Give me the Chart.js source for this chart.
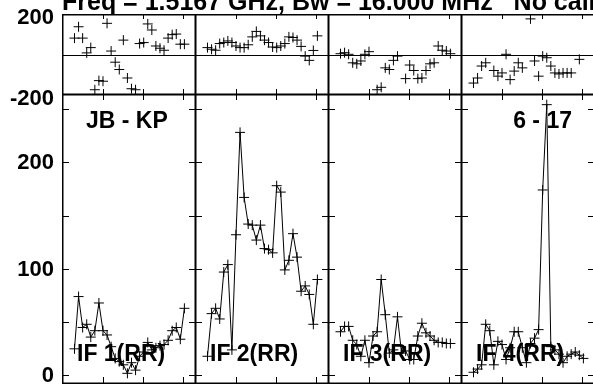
<!DOCTYPE html>
<html>
<head>
<meta charset="utf-8">
<script src="https://cdn.jsdelivr.net/npm/chart.js@4.4.0/dist/chart.umd.min.js"></script>
<style>
  html, body { margin: 0; padding: 0; background: #fff; }
  body { width: 593px; height: 386px; position: relative; overflow: hidden;
         font-family: "Liberation Sans", Arial, sans-serif; font-weight: bold; color: #000; }
  canvas { position: absolute; }
  .lbl { position: absolute; font-size: 22px; line-height: 22px; white-space: pre; }
  .big { font-size: 23px; line-height: 23px; }
</style>
</head>
<body>
<script>
// Data: sample index (time), amplitude and phase per IF
const times = [0, 1, 2, 3, 4, 5, 6, 7, 8, 9, 10, 11, 12, 13, 14, 15, 16, 17, 18, 19, 20, 21, 22, 23, 24, 25, 26, 27];
const xTicks = [7, 16.8, 26.6];

const amp1 = [25, 74, 45, 48, 36, 42, 68, 42, 38, 27, 16, 13, 10, 2, 12, 5, 18, 22, 31, 24, 26, 28, 29, 33, 42, 45, 34, 63];
const amp2 = [18, 58, 63, 53, 97, 104, 24, 132, 228, 167, 142, 141, 127, 141, 119, 118, 115, 178, 172, 99, 108, 133, 111, 79, 84, 76, 48, 90];
const amp3 = [41, 46, 46, 33, 29, 18, 33, 12, 37, 41, 90, 57, 21, 24, 55, 21, 23, 15, 15, 37, 49, 40, 37, 33, 31, 31, 30, 30];
const amp4 = [3, 6, 10, 48, 42, 10, 32, 29, 15, 26, 41, 41, 26, 12, 30, 35, 43, 174, 254, 27, 24, 20, 12, 18, 20, 22, 19, 16];

const phase1 = [81, 137, 81, 8, 34, -174, -129, -132, 154, 17, -38, -74, 71, -116, -169, -174, 54, 59, 151, 121, 42, 31, 21, 81, 98, 101, 51, 51];
const phase2 = [34, 26, 21, 54, 59, 67, 59, 42, 34, 34, 48, 87, 114, 92, 71, 59, 37, 34, 42, 54, 87, 84, 71, 40, -8, -29, 20, 92];
const phase3 = [4, 9, 1, -41, -46, -32, 1, 14, null, -174, -162, -66, -74, -29, -8, null, -119, -52, -79, -119, -116, -79, -46, -41, 42, 21, 17, 4];
const phase4 = [-141, -116, -57, -41, null, -79, -107, -91, 1, -124, -82, -41, -66, null, 176, -32, -107, -8, -16, -57, -91, -96, -91, -91, -91, null, -24, null];

const ifNames = ['IF 1(RR)', 'IF 2(RR)', 'IF 3(RR)', 'IF 4(RR)'];
const ampTicks = [0, 50, 100, 150, 200, 250];
const ampTickLabels = [0, 100, 200];
const phaseTickLabels = [200, -200];
const baselineName = 'JB - KP';
const stationName = '6 - 17';
const titleText = 'Freq = 1.5167 GHz, Bw = 16.000 MHz   No calibration';

// layout
const colLeft = [62, 195, 328, 461];
const panelW = 134;
const phaseTop = 14, phaseH = 81;
const ampTop = 94, ampH = 290;

// frame, inward ticks and zero line
const framePlugin = {
    id: 'frame',
    afterDatasetsDraw(chart, args, opts) {
        const ctx = chart.ctx;
        const a = chart.chartArea;
        const xs = chart.scales.x, ys = chart.scales.y;
        const line = (x1, y1, x2, y2) => { ctx.beginPath(); ctx.moveTo(x1, y1); ctx.lineTo(x2, y2); ctx.stroke(); };
        ctx.save();
        ctx.strokeStyle = '#000';
        ctx.lineWidth = 1;
        if (opts.zero) {
            const y0 = Math.round(ys.getPixelForValue(0)) + 0.5;
            line(a.left, y0, a.right, y0);
        }
        xTicks.forEach(t => {
            const px = Math.round(xs.getPixelForValue(t)) + 0.5;
            line(px, a.top, px, a.top + opts.topTick);
            line(px, a.bottom, px, a.bottom - opts.bottomTick);
        });
        (opts.yTicks || []).forEach(v => {
            const py = Math.round(ys.getPixelForValue(v)) + 0.5;
            line(a.left, py, a.left + 7, py);
            line(a.right, py, a.right - 7, py);
        });
        ctx.lineWidth = 1.5;
        ctx.strokeRect(a.left + 0.75, a.top + 0.75, a.right - a.left - 1.5, a.bottom - a.top - 1.5);
        ctx.restore();
    }
};

function makePanel(left, top, h, yMin, yMax, values, withLine, frameOpts) {
    const cv = document.createElement('canvas');
    cv.width = panelW; cv.height = h;
    cv.style.left = left + 'px'; cv.style.top = top + 'px';
    cv.style.width = panelW + 'px'; cv.style.height = h + 'px';
    document.body.appendChild(cv);
    return new Chart(cv, {
        type: 'scatter',
        data: {
            datasets: [{
                data: times.map((t, i) => ({ x: t, y: values[i] })),
                showLine: withLine,
                borderColor: '#000',
                borderWidth: 1,
                pointStyle: 'cross',
                pointRadius: 5,
                pointBorderWidth: 1,
                pointBorderColor: '#000',
                pointHoverRadius: 5
            }]
        },
        options: {
            responsive: false,
            animation: false,
            devicePixelRatio: 1,
            layout: { padding: 0, autoPadding: false },
            events: [],
            plugins: { legend: { display: false }, tooltip: { enabled: false }, frame: frameOpts },
            scales: {
                x: { type: 'linear', display: false, min: -3.07, max: 29.85 },
                y: { type: 'linear', display: false, min: yMin, max: yMax }
            }
        },
        plugins: [framePlugin]
    });
}

const amps = [amp1, amp2, amp3, amp4];
const phases = [phase1, phase2, phase3, phase4];
const ampCharts = [], phaseCharts = [];
for (let c = 0; c < 4; c++) {
    phaseCharts.push(makePanel(colLeft[c], phaseTop, phaseH, -200, 200, phases[c], false,
        { zero: true, topTick: 5, bottomTick: 6 }));
    ampCharts.push(makePanel(colLeft[c], ampTop, ampH, -8, 264, amps[c], true,
        { yTicks: ampTicks, topTick: 6, bottomTick: 7 }));
}

function addLabel(text, style, cls) {
    const d = document.createElement('div');
    d.className = 'lbl' + (cls ? ' ' + cls : '');
    d.textContent = text;
    Object.assign(d.style, style);
    document.body.appendChild(d);
    return d;
}

// axis labels placed through the charts' own scales
const ya = ampCharts[0].scales.y;
ampTickLabels.forEach(v => {
    addLabel(String(v), { right: (593 - 54) + 'px', top: (ampTop + ya.getPixelForValue(v) - 11) + 'px' });
});
const yp = phaseCharts[0].scales.y;
phaseTickLabels.forEach(v => {
    addLabel(String(v), { right: (593 - 54) + 'px', top: (phaseTop + yp.getPixelForValue(v) - 8.5) + 'px' });
});

addLabel(titleText, { left: '62px', top: '-11px', fontSize: '25px', lineHeight: '25px' });
addLabel(baselineName, { left: '86px', top: '109px' }, 'big');
addLabel(stationName, { right: '21px', top: '109px' }, 'big');
ifNames.forEach((name, c) => {
    addLabel(name, { left: (colLeft[c] + 15) + 'px', top: '341.5px' }, 'big');
});
</script>
</body>
</html>
